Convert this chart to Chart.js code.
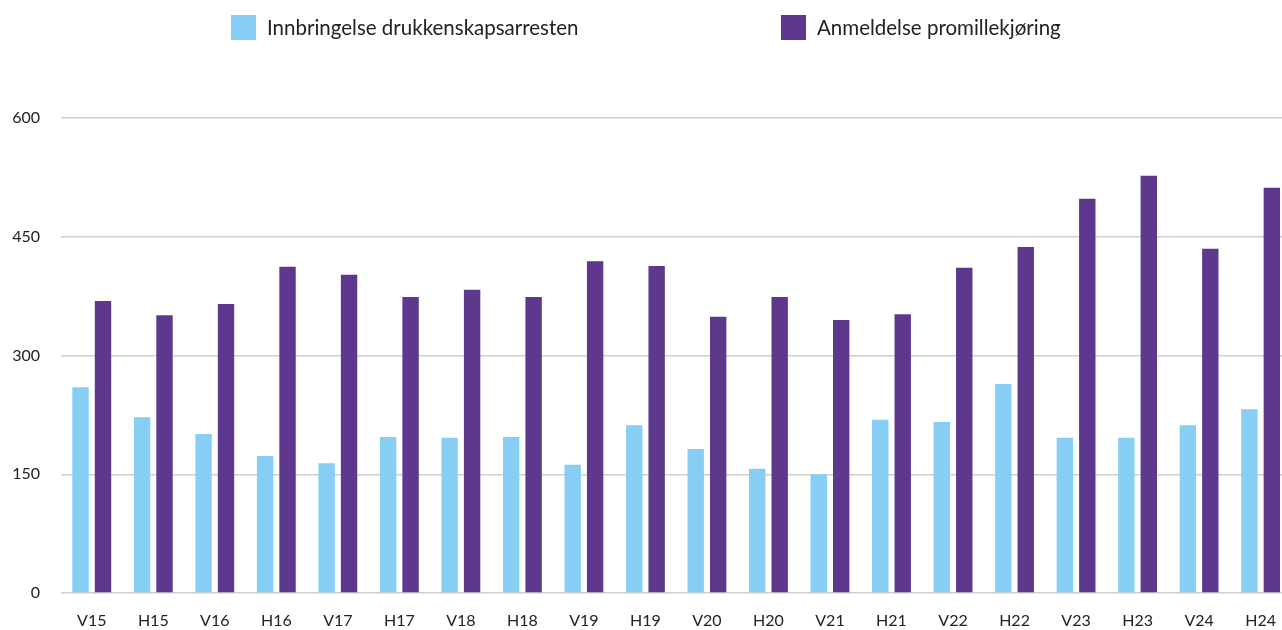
<!DOCTYPE html>
<html>
<head>
<meta charset="utf-8">
<script src="https://cdn.jsdelivr.net/npm/chart.js@4.4.1/dist/chart.umd.min.js"></script>
<style>
  html, body { margin: 0; padding: 0; background: #fff; overflow: hidden; }
  #wrap { position: relative; width: 1294px; height: 630px; }
  #legend { position: absolute; top: 15px; left: 0; width: 1282px; font-family: Lato, sans-serif; font-size: 20.5px; color: #222; }
  .item { position: absolute; top: 0; height: 25px; line-height: 25px; white-space: nowrap; }
  .box { display: inline-block; width: 25px; height: 25px; vertical-align: top; margin-right: 11px; }
  canvas { display: block; }
</style>
</head>
<body>
<div id="wrap">
  <div id="legend"></div>
  <canvas id="myChart" width="1294" height="630"></canvas>
</div>
<script>
// halvår: V = vår, H = høst
var periods = ["V15", "H15", "V16", "H16", "V17", "H17", "V18", "H18", "V19", "H19",
               "V20", "H20", "V21", "H21", "V22", "H22", "V23", "H23", "V24", "H24"];
var seriesNames = ["Innbringelse drukkenskapsarresten", "Anmeldelse promillekjøring"];
var innbringelse = [260, 222, 201, 173, 164, 197, 196, 197, 162, 212,
                    182, 157, 150, 219, 216, 264, 196, 196, 212, 232];
var promille = [369, 351, 365, 412, 402, 374, 383, 374, 419, 413,
                349, 374, 345, 352, 411, 437, 498, 527, 435, 512];
var yTicks = [0, 150, 300, 450, 600];

var colors = ["#86cef3", "#5e388c"];

//legend drawn as html so the two items can sit far apart
var legendLeft = [231, 781];
seriesNames.forEach(function (name, i) {
    var item = document.createElement("div");
    item.className = "item";
    item.style.left = legendLeft[i] + "px";
    item.innerHTML = '<span class="box" style="background:' + colors[i] + '"></span>' + name;
    document.getElementById("legend").appendChild(item);
});

var ctx = document.getElementById('myChart').getContext('2d');

var myBarChart = new Chart(ctx, {
    type: 'bar',
    data: {
        labels: periods,
        datasets: [{
            label: seriesNames[0],
            backgroundColor: colors[0],
            data: innbringelse
        }, {
            label: seriesNames[1],
            backgroundColor: colors[1],
            data: promille
        }]
    },
    options: {
        responsive: false,
        animation: false,
        layout: { padding: { top: 118, bottom: 0, left: 0, right: 0 } },
        categoryPercentage: 0.73,
        barPercentage: 0.73,
        plugins: {
            legend: { display: false },
            tooltip: { enabled: false }
        },
        scales: {
            x: {
                afterFit: function (scale) { scale.height = 37; },
                grid: { display: false, drawTicks: false },
                border: { display: false },
                ticks: {
                    padding: 18,
                    maxRotation: 0,
                    color: "#222",
                    font: { family: "Lato", size: 16 }
                }
            },
            y: {
                min: 0,
                max: 600,
                afterFit: function (scale) { scale.width = 61; },
                afterBuildTicks: function (scale) {
                    scale.ticks = yTicks.map(function (v) { return { value: v }; });
                },
                grid: { color: "#cfcfcf", lineWidth: 1.5, drawTicks: false },
                border: { display: false },
                ticks: {
                    padding: 21,
                    color: "#222",
                    font: { family: "Lato", size: 16 }
                }
            }
        }
    }
});
</script>
</body>
</html>
